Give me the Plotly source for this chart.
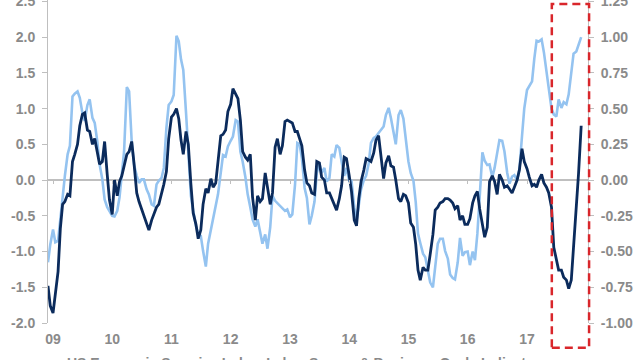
import pandas as pd
import plotly.graph_objects as go

# Semi-monthly observations (1st and 15th), Dec 2008 .. Dec 2017
dates = pd.date_range("2008-12-01", "2017-12-01", freq="SMS")

# Light blue series (left axis)
surprise_lhs = [
    -1.15, -0.90,
    -0.69, -0.87, -0.85, -0.52, -0.27, 0.06, 0.36, 0.48, 1.17, 1.21, 1.24, 1.15,
    0.94, 0.83, 1.05, 1.13, 0.87, 0.80, 0.54, 0.22, 0.01, -0.27, -0.38, -0.43,
    -0.50, -0.51, -0.43, -0.24, 0.08, 0.40, 1.30, 1.24, 0.54, 0.22, 0.06, -0.04,
    0.01, 0.01, -0.13, -0.20, -0.34, -0.36, -0.06, -0.01, 0.03, 0.17, 0.73, 1.05,
    1.10, 1.19, 2.02, 1.94, 1.69, 1.54, 0.94, 0.45, -0.22, -0.43, -0.64, -0.75,
    -0.78, -0.99, -1.21, -0.89, -0.69, -0.51, -0.36, -0.20, 0.10, 0.35, 0.33, 0.47,
    0.55, 0.61, 0.84, 0.82, 0.40, 0.26, 0.04, -0.20, -0.38, -0.55, -0.65, -0.55,
    -0.73, -0.89, -0.76, -0.96, -0.66, -0.22, -0.29, -0.32, -0.36, -0.39, -0.43, -0.41,
    -0.52, -0.48, -0.06, 0.52, 0.50, 0.31, -0.11, -0.25, -0.62, -0.50, -0.30, 0.10,
    0.24, 0.10, 0.17, -0.02, 0.03, 0.36, 0.33, 0.49, 0.45, 0.26, 0.06, 0.17,
    -0.01, -0.01, -0.38, -0.57, -0.36, -0.13, 0.00, 0.06, 0.23, 0.52, 0.59, 0.61,
    0.66, 0.70, 0.75, 0.91, 1.01, 0.87, 0.68, 0.50, 0.91, 0.98, 0.86, 0.61,
    0.26, 0.10, -0.01, -0.31, -0.75, -0.88, -1.03, -1.08, -1.29, -1.43, -1.50, -1.19,
    -0.89, -0.82, -0.82, -0.99, -1.10, -1.32, -1.37, -1.39, -1.15, -0.81, -1.06, -1.01,
    -1.00, -1.19, -1.00, -1.12, -0.75, -0.25, 0.39, 0.27, 0.21, 0.22, 0.04, 0.17,
    0.39, 0.56, 0.55, 0.40, 0.10, -0.05, 0.05, 0.07, 0.00, 0.15, 0.61, 1.00,
    1.26, 1.31, 1.38, 1.70, 1.95, 1.94, 1.97, 1.79, 1.51, 1.32, 1.00, 0.92,
    0.89, 1.13, 1.01, 1.09, 1.06, 1.20, 1.51, 1.77, 1.80, 1.88, 2.00,
]

# Dark navy series (right axis)
labor_rhs = [
    -0.74, -0.88,
    -0.93, -0.78, -0.64, -0.34, -0.17, -0.15, -0.10, -0.11, 0.13, 0.18, 0.25, 0.38,
    0.46, 0.47, 0.35, 0.34, 0.25, 0.29, 0.18, 0.11, 0.13, 0.27, 0.04, -0.14,
    -0.24, 0.00, -0.11, -0.01, 0.03, 0.11, 0.18, 0.20, 0.27, 0.12, -0.09, -0.15,
    -0.20, -0.24, -0.30, -0.35, -0.28, -0.23, -0.19, -0.17, -0.10, -0.03, 0.06, 0.29,
    0.44, 0.46, 0.50, 0.43, 0.28, 0.18, 0.34, 0.25, -0.03, -0.23, -0.31, -0.41,
    -0.35, -0.17, -0.06, -0.09, 0.01, -0.05, -0.02, 0.13, 0.31, 0.32, 0.35, 0.48,
    0.53, 0.64, 0.60, 0.57, 0.42, 0.20, 0.16, 0.14, 0.18, -0.12, -0.28, -0.11,
    -0.15, -0.13, 0.05, -0.04, -0.17, -0.09, 0.23, 0.29, 0.18, 0.24, 0.41, 0.42,
    0.41, 0.40, 0.34, 0.34, 0.29, 0.24, 0.07, -0.02, -0.04, -0.09, -0.10, 0.13,
    0.12, 0.02, 0.00, -0.09, -0.09, -0.13, -0.18, -0.21, -0.13, -0.04, 0.16, 0.15,
    0.03, -0.08, -0.28, -0.32, -0.13, -0.01, 0.07, 0.15, 0.14, 0.13, 0.19, 0.28,
    0.31, 0.16, 0.01, 0.12, 0.17, 0.10, 0.09, 0.00, -0.13, -0.15, -0.10, -0.11,
    -0.16, -0.30, -0.33, -0.45, -0.63, -0.70, -0.61, -0.63, -0.63, -0.52, -0.38, -0.21,
    -0.19, -0.16, -0.15, -0.13, -0.13, -0.14, -0.16, -0.20, -0.18, -0.28, -0.25, -0.31,
    -0.31, -0.27, -0.16, -0.11, -0.08, -0.20, -0.32, -0.40, -0.33, -0.01, 0.03, -0.01,
    -0.10, 0.04, 0.00, -0.05, -0.04, -0.06, -0.09, -0.05, 0.00, 0.07, 0.22, 0.13,
    0.08, 0.02, -0.04, -0.03, -0.05, 0.00, 0.04, -0.02, -0.05, -0.09, -0.19, -0.47,
    -0.56, -0.63, -0.63, -0.68, -0.70, -0.76, -0.70, -0.47, -0.22, 0.05, 0.38,
]

year_ticks = ["2009-01-01", "2010-01-01", "2011-01-01", "2012-01-01", "2013-01-01",
              "2014-01-01", "2015-01-01", "2016-01-01", "2017-01-01"]
year_labels = ["09", "10", "11", "12", "13", "14", "15", "16", "17"]
left_ticks = [-2.0, -1.5, -1.0, -0.5, 0.0, 0.5, 1.0, 1.5, 2.0, 2.5]
right_ticks = [-1.0, -0.75, -0.5, -0.25, 0.0, 0.25, 0.5, 0.75, 1.0, 1.25]

caption = "US Economic Surprise Index, Labor Survey & Business Cycle Indicators"

GRAY = "#8a8a8a"
AXIS = "#bfbfbf"
LIGHT = "#94c3f0"
DARK = "#0b2b5c"
xr = ["2008-12-01", "2018-01-12"]
tf = dict(family="Liberation Sans, Arial, sans-serif", size=14, color=GRAY, weight="bold")

fig = go.Figure()
fig.add_trace(go.Scatter(x=dates, y=surprise_lhs, mode="lines", name="Surprise (lhs)",
                         line=dict(color=LIGHT, width=2.6), xaxis="x", yaxis="y"))
fig.add_trace(go.Scatter(x=dates, y=labor_rhs, mode="lines", name="Labor (rhs)",
                         line=dict(color=DARK, width=2.8), xaxis="x2", yaxis="y2"))

fig.update_layout(
    width=640, height=360,
    margin=dict(l=48, r=52, t=0, b=37),
    paper_bgcolor="white", plot_bgcolor="white",
    showlegend=False,
    xaxis=dict(type="date", range=xr, tickvals=year_ticks, ticktext=year_labels,
               showgrid=False, showline=False, ticks="", zeroline=False,
               tickfont=tf, ticklabelstandoff=6, automargin=False),
    xaxis2=dict(type="date", range=xr, tickvals=year_ticks, overlaying="x",
                anchor="free", position=2.0 / 4.5, showgrid=False, showline=False,
                ticks="outside", ticklen=4, tickcolor=AXIS, showticklabels=False,
                zeroline=False, automargin=False),
    yaxis=dict(range=[-2.0, 2.52], tickvals=left_ticks,
               ticktext=[f"{v:.1f}" for v in left_ticks], showgrid=False,
               showline=True, linecolor=AXIS, linewidth=1, ticks="outside", ticklen=5,
               tickcolor=AXIS, zeroline=True, zerolinecolor=AXIS, zerolinewidth=1.5,
               tickfont=tf, ticklabelstandoff=4, automargin=False,
               ticklabeloverflow="allow"),
    yaxis2=dict(range=[-1.0, 1.26], tickvals=right_ticks,
                ticktext=[f"{v:.2f}" for v in right_ticks], overlaying="y", side="right",
                anchor="x", showgrid=False, showline=True, linecolor=AXIS, linewidth=1,
                ticks="outside", ticklen=5, tickcolor=AXIS, zeroline=False,
                tickfont=tf, ticklabelstandoff=4, automargin=False,
                ticklabeloverflow="allow"),
    shapes=[dict(type="rect", xref="paper", yref="paper", x0=0.933, x1=1.002,
                 y0=-0.077, y1=0.988, line=dict(color="#d9262b", width=2.5, dash="8px,5px"),
                 fillcolor="rgba(0,0,0,0)", layer="above")],
    annotations=[dict(text=caption, xref="paper", yref="paper", x=0.031, y=-0.093,
                      xanchor="left", yanchor="top", showarrow=False,
                      font=dict(family="Liberation Sans, Arial, sans-serif", size=14,
                                color=GRAY, weight="bold"))],
)

# remove the browser's default 8px page margin so the chart sits at the window origin
fig.write_html("out.html", config={"displayModeBar": False},
               post_script="document.body.style.margin='0';")
